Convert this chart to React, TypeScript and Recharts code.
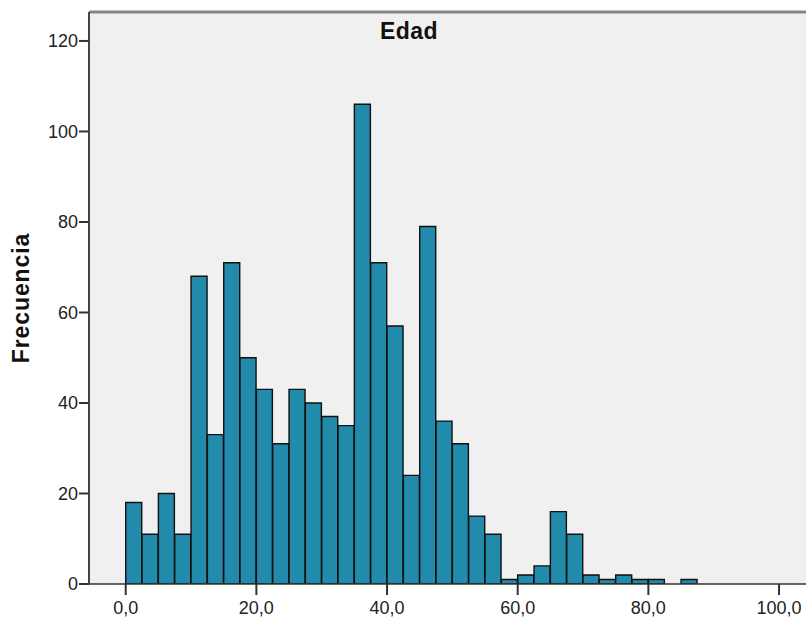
import React from 'react';
import { ComposedChart, Bar, XAxis, YAxis, CartesianGrid, ReferenceLine } from 'recharts';

// Histogram of "Edad" (bin width 2.5, bins start at 0)
const binCenters = [
  1.25, 3.75, 6.25, 8.75, 11.25, 13.75, 16.25, 18.75, 21.25, 23.75,
  26.25, 28.75, 31.25, 33.75, 36.25, 38.75, 41.25, 43.75, 46.25, 48.75,
  51.25, 53.75, 56.25, 58.75, 61.25, 63.75, 66.25, 68.75, 71.25, 73.75,
  76.25, 78.75, 81.25, 83.75, 86.25,
];
const frequencies = [
  18, 11, 20, 11, 68, 33, 71, 50, 43, 31,
  43, 40, 37, 35, 106, 71, 57, 24, 79, 36,
  31, 15, 11, 1, 2, 4, 16, 11, 2, 1,
  2, 1, 1, 0, 1,
];
const xTicks = [0, 20, 40, 60, 80, 100];
const yTicks = [0, 20, 40, 60, 80, 100, 120];
const title = 'Edad';
const yLabel = 'Frecuencia';

const data = binCenters.map((x, i) => ({ x, freq: frequencies[i] }));

const X_MIN = -5.62;
const X_MAX = 106.27;
const Y_MAX = 126.4;

const fmt = (v: number) => v.toFixed(1).replace('.', ',');
const font = '"Liberation Sans", Arial, sans-serif';

export default function App() {
  return (
    <div style={{ position: 'absolute', left: 0, top: 0, width: 806, height: 617, overflow: 'hidden', background: '#fff' }}>
      <ComposedChart
        width={820}
        height={617}
        data={data}
        margin={{ top: 12, right: 0, bottom: 0, left: 0 }}
        barCategoryGap={0}
        barGap={0}
      >
        <CartesianGrid fill="#f0f0f0" horizontal={false} vertical={false} stroke="none" />
        <XAxis
          type="number"
          dataKey="x"
          domain={[X_MIN, X_MAX]}
          allowDataOverflow
          ticks={xTicks}
          tickFormatter={fmt}
          height={33}
          tickSize={11}
          tickMargin={6}
          axisLine={{ stroke: '#333', strokeWidth: 1.5 }}
          tickLine={{ stroke: '#333', strokeWidth: 2 }}
          tick={{ fill: '#222', fontSize: 18, fontFamily: font }}
          interval={0}
        />
        <YAxis
          type="number"
          domain={[0, Y_MAX]}
          allowDataOverflow
          ticks={yTicks}
          width={89}
          tickSize={10}
          tickMargin={1}
          axisLine={{ stroke: '#444', strokeWidth: 2 }}
          tickLine={{ stroke: '#333', strokeWidth: 2 }}
          tick={{ fill: '#222', fontSize: 18, fontFamily: font }}
          interval={0}
        />
        <ReferenceLine y={Y_MAX} stroke="#858585" strokeWidth={3} />
        <Bar
          dataKey="freq"
          fill="#228aab"
          stroke="#111"
          strokeWidth={1.4}
          isAnimationActive={false}
        />
      </ComposedChart>
      <div
        style={{
          position: 'absolute', left: 409, top: 20, transform: 'translateX(-50%)',
          fontFamily: font, fontWeight: 'bold', fontSize: 23, lineHeight: 1, color: '#111', whiteSpace: 'nowrap',
          letterSpacing: 0.5,
        }}
      >
        {title}
      </div>
      <div
        style={{
          position: 'absolute', left: 21, top: 298, transform: 'translate(-50%, -50%) rotate(-90deg)',
          fontFamily: font, fontWeight: 'bold', fontSize: 23, lineHeight: 1, color: '#111', whiteSpace: 'nowrap',
          letterSpacing: 0.9,
        }}
      >
        {yLabel}
      </div>
    </div>
  );
}
